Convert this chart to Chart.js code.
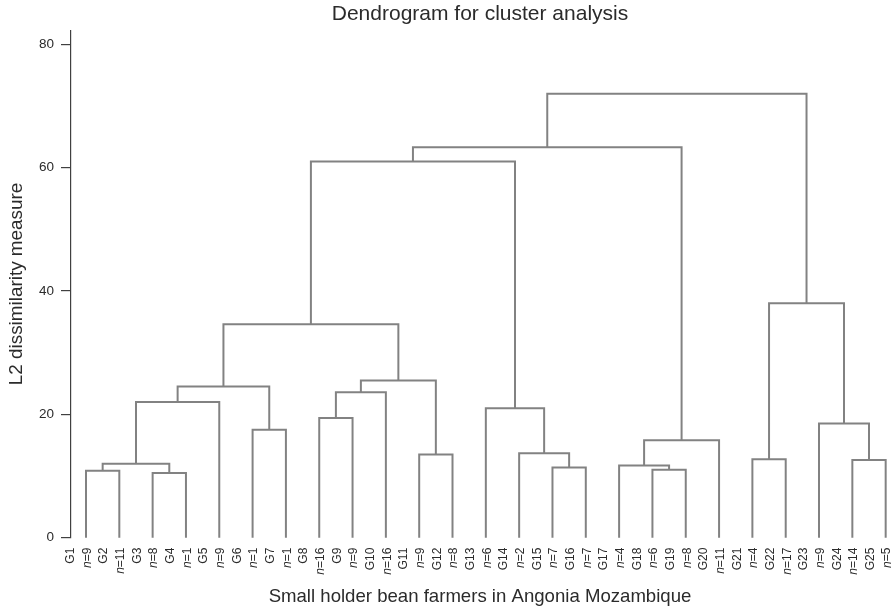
<!DOCTYPE html>
<html>
<head>
<meta charset="utf-8">
<script src="https://cdn.jsdelivr.net/npm/chart.js@4.4.0/dist/chart.umd.min.js"></script>
<style>
  html, body { margin: 0; padding: 0; background: #fff; }
  #wrap { width: 893px; height: 614px; }
</style>
</head>
<body>
<div id="wrap"><canvas id="dendro"></canvas></div>
<script>
// leaves (groups) and their sizes
const groupLabels = ['G1', 'G2', 'G3', 'G4', 'G5', 'G6', 'G7', 'G8', 'G9', 'G10', 'G11', 'G12', 'G13',
    'G14', 'G15', 'G16', 'G17', 'G18', 'G19', 'G20', 'G21', 'G22', 'G23', 'G24', 'G25'];
const groupSizes = [9, 11, 8, 1, 9, 1, 1, 16, 9, 16, 9, 8, 6, 2, 7, 7, 4, 6, 8, 11, 4, 17, 9, 14, 5];

// merges, hclust style: negative = leaf number, positive = earlier merge (1-based)
const mergeLeft = [-1, -3, 1, 3, -6, 4, -8, 7, -11, 8, 6, -15, -14, -13, 11, -18, -17, 17, 15, -21, -24, -23, 20, 19];
const mergeRight = [-2, -4, 2, -5, -7, 5, -9, -10, -12, 9, 10, -16, 12, 13, 14, -19, 16, -20, 18, -22, -25, 21, 22, 23];
const mergeHeight = [10.85, 10.5, 12.0, 22.0, 17.5, 24.5, 19.4, 23.6, 13.5, 25.5, 34.6, 11.4, 13.7, 21.0, 61.0,
    11.0, 11.7, 15.8, 63.3, 12.7, 12.6, 18.5, 38.0, 72.0];

const yTicks = [0, 20, 40, 60, 80];

const lineColor = '#828282';
const axisColor = '#404040';
const textColor = '#2b2b2b';
const fontFamily = '"Liberation Sans", Arial, Helvetica, sans-serif';

// position of every node: leaves sit at 1..n, merges at the middle of their children
function nodePos(ref, nodes) {
    if (ref < 0) return { x: -ref, y: 0 };
    return nodes[ref - 1];
}

const nodes = [];
const links = [];
for (let k = 0; k < mergeHeight.length; k++) {
    const a = nodePos(mergeLeft[k], nodes);
    const b = nodePos(mergeRight[k], nodes);
    const h = mergeHeight[k];
    nodes.push({ x: (a.x + b.x) / 2, y: h });
    links.push([
        { x: a.x, y: a.y },
        { x: a.x, y: h },
        { x: b.x, y: h },
        { x: b.x, y: b.y }
    ]);
}

const datasets = links.map(pts => ({
    data: pts,
    showLine: true,
    borderColor: lineColor,
    borderWidth: 2,
    pointRadius: 0,
    pointHoverRadius: 0,
    tension: 0,
    borderJoinStyle: 'miter',
    clip: 4
}));

// leaf labels under the axis: "Gk" between leaves, italic n=.. under each leaf
const leafLabels = {
    id: 'leafLabels',
    afterDraw(chart) {
        const ctx = chart.ctx;
        const xs = chart.scales.x;
        const top = chart.chartArea.bottom + 10;
        ctx.save();
        ctx.fillStyle = textColor;
        ctx.textBaseline = 'middle';
        for (let i = 0; i < groupLabels.length; i++) {
            const gx = xs.getPixelForValue(i + 0.5) + 1.5;
            const nx = xs.getPixelForValue(i + 1) + 1.5;

            ctx.save();
            ctx.translate(gx, top);
            ctx.rotate(-Math.PI / 2);
            ctx.font = '12px ' + fontFamily;
            ctx.textAlign = 'right';
            ctx.fillText(groupLabels[i], 0, 0);
            ctx.restore();

            ctx.save();
            ctx.translate(nx, top);
            ctx.rotate(-Math.PI / 2);
            ctx.textAlign = 'left';
            const rest = '=' + groupSizes[i];
            ctx.font = 'italic 12px ' + fontFamily;
            const wn = ctx.measureText('n').width;
            ctx.font = '12px ' + fontFamily;
            const wr = ctx.measureText(rest).width;
            const start = -(wn + wr);
            ctx.font = 'italic 12px ' + fontFamily;
            ctx.fillText('n', start, 0);
            ctx.font = '12px ' + fontFamily;
            ctx.fillText(rest, start + wn, 0);
            ctx.restore();
        }
        ctx.restore();
    }
};

new Chart(document.getElementById('dendro'), {
    type: 'scatter',
    data: { datasets: datasets },
    options: {
        responsive: true,
        maintainAspectRatio: false,
        animation: false,
        events: [],
        layout: { padding: { left: 0, right: 4, top: 0, bottom: 0 } },
        plugins: {
            legend: { display: false },
            tooltip: { enabled: false },
            title: {
                display: true,
                text: 'Dendrogram for cluster analysis',
                fullSize: false,
                color: textColor,
                font: { family: fontFamily, size: 21, weight: 'normal' },
                padding: { top: 2, bottom: 3 }
            }
        },
        scales: {
            x: {
                type: 'linear',
                min: 0.55,
                max: 25.1,
                grid: { display: false },
                border: { display: false },
                ticks: { display: false },
                title: {
                    display: true,
                    text: 'Small holder bean farmers in Angonia Mozambique',
                    color: textColor,
                    font: { family: fontFamily, size: 18.6 },
                    padding: { top: 40, bottom: 6 }
                }
            },
            y: {
                min: 0,
                max: 82.3,
                afterBuildTicks: (scale) => {
                    scale.ticks = yTicks.map(v => ({ value: v }));
                },
                afterFit: (scale) => { scale.width = 71; },
                grid: {
                    drawOnChartArea: false,
                    drawTicks: true,
                    tickLength: 10,
                    color: axisColor,
                    lineWidth: 1.2
                },
                border: { display: true, color: axisColor, width: 1.2 },
                ticks: {
                    color: textColor,
                    padding: 7,
                    font: { family: fontFamily, size: 13.5 }
                },
                title: {
                    display: true,
                    text: 'L2 dissimilarity measure',
                    color: textColor,
                    font: { family: fontFamily, size: 18.9 },
                    padding: { top: 5, bottom: 0 }
                }
            }
        }
    },
    plugins: [leafLabels]
});
</script>
</body>
</html>
